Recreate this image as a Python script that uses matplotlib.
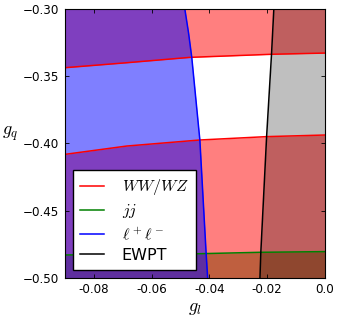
#!/usr/bin/env python
"""Exclusion regions in the (g_l, g_q) plane."""

import matplotlib

matplotlib.use("Agg")
import matplotlib.pyplot as plt

plt.rcParams["mathtext.fontset"] = "cm"

# WW/WZ bounds: upper and lower red curves, g_q as function of g_l
ww_up_gl = [-0.09, -0.0686, -0.0467, -0.0184, 0.0]
ww_up_gq = [-0.3437, -0.3400, -0.3360, -0.3337, -0.3328]
ww_lo_gl = [-0.09, -0.0686, -0.0433, -0.0202, 0.0]
ww_lo_gq = [-0.4082, -0.4020, -0.3975, -0.3950, -0.3938]

# dijet bound
jj_gl = [-0.09, -0.0485, -0.0225, 0.0]
jj_gq = [-0.4831, -0.4824, -0.4811, -0.4806]

# dilepton bound, g_l as function of g_q
ll_gq = [-0.30, -0.318, -0.336, -0.3975, -0.483, -0.50]
ll_gl = [-0.0485, -0.0472, -0.0461, -0.0433, -0.0411, -0.0406]

# electroweak precision bound
ew_gq = [-0.30, -0.3337, -0.395, -0.481, -0.50]
ew_gl = [-0.0177, -0.0185, -0.0202, -0.0222, -0.0225]

xticks = [-0.08, -0.06, -0.04, -0.02, 0.0]
yticks = [-0.30, -0.35, -0.40, -0.45, -0.50]
xmin, xmax = -0.09, 0.0
ymin, ymax = -0.50, -0.30

fig = plt.figure(figsize=(3.38, 3.19), dpi=100, facecolor="white")
ax = fig.add_axes([0.192, 0.1295, 0.7695, 0.8423])

ax.fill_between(jj_gl, ymin, jj_gq, color="g", alpha=0.5, lw=0)
ax.fill_between(ww_up_gl, ww_up_gq, ymax, color="r", alpha=0.5, lw=0)
ax.fill_between(ww_lo_gl, ymin, ww_lo_gq, color="r", alpha=0.5, lw=0)
ax.fill_betweenx(ew_gq, ew_gl, xmax, color="k", alpha=0.25, lw=0)
ax.fill_betweenx(ll_gq, xmin, ll_gl, color="b", alpha=0.5, lw=0)

ax.plot(ww_up_gl, ww_up_gq, color="r", lw=1.1, label=r"$WW/WZ$")
ax.plot(ww_lo_gl, ww_lo_gq, color="r", lw=1.1)
ax.plot(jj_gl, jj_gq, color="g", lw=1.1, label=r"$jj$")
ax.plot(ll_gl, ll_gq, color="b", lw=1.1, label=r"$\ell^+\ell^-$")
ax.plot(ew_gl, ew_gq, color="k", lw=1.1, label="EWPT")

ax.set_xlim(xmin, xmax)
ax.set_ylim(ymin, ymax)
ax.set_xticks(xticks)
ax.set_xticklabels([str(t) for t in xticks])
ax.set_yticks(yticks)
ax.tick_params(direction="in", length=3, width=0.6, top=True, right=True,
               labelsize=8.6, pad=4)
for sp in ax.spines.values():
    sp.set_linewidth(0.8)

ax.set_xlabel(r"$g_l$", fontsize=13, labelpad=2)
ax.set_ylabel(r"$g_q$", fontsize=13, rotation=0, labelpad=9)

ax.legend(loc="lower left", fontsize=11.5, handlelength=1.5, handletextpad=1.1,
          borderpad=0.45, labelspacing=0.32, fancybox=False, framealpha=1,
          edgecolor="black", borderaxespad=0.5)

fig.savefig("out.png", dpi=100, facecolor="white")
